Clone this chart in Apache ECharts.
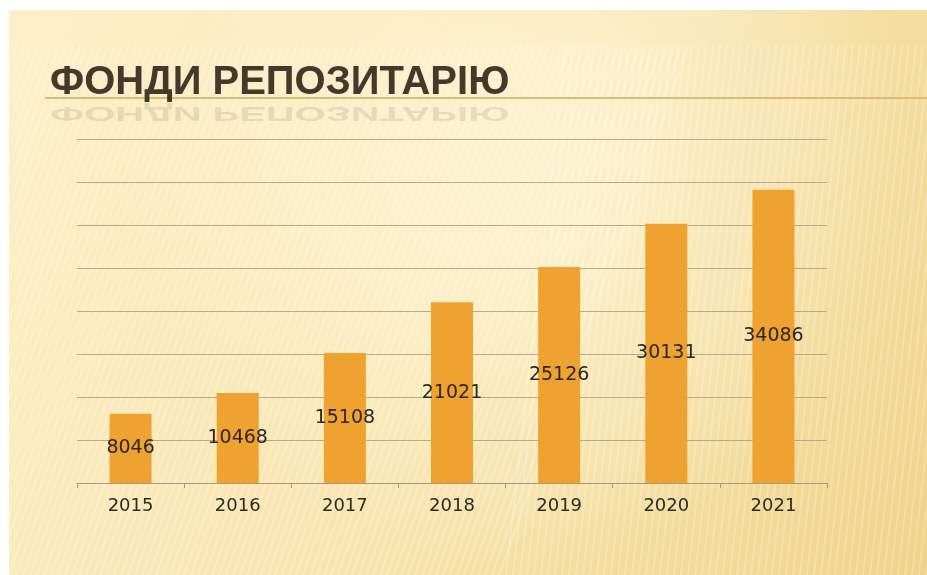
<!DOCTYPE html>
<html>
<head>
<meta charset="utf-8">
<title>Фонди репозитарію</title>
<script src="https://cdn.jsdelivr.net/npm/echarts@6/dist/echarts.min.js"></script>
<style>
  html, body { margin: 0; padding: 0; background: #fff; }
  #main { width: 927px; height: 575px; }
</style>
</head>
<body>
<div id="main"></div>
<script>
// дані діаграми
var years = ['2015', '2016', '2017', '2018', '2019', '2020', '2021'];
var holdings = [8046, 10468, 15108, 21021, 25126, 30131, 34086];
var yTicks = [0, 5000, 10000, 15000, 20000, 25000, 30000, 35000, 40000];
var titleText = 'ФОНДИ РЕПОЗИТАРІЮ';

// фон слайда: кремовий градієнт з тонкими смугами
function makeBackground() {
  var c = document.createElement('canvas');
  c.width = 927; c.height = 575;
  var ctx = c.getContext('2d');
  ctx.fillStyle = '#ffffff';
  ctx.fillRect(0, 0, 927, 575);
  var g = ctx.createLinearGradient(9, 10, 927, 575);
  g.addColorStop(0, '#fdf0c8');
  g.addColorStop(0.5, '#f9e5b0');
  g.addColorStop(1, '#eed38a');
  ctx.fillStyle = g;
  ctx.fillRect(9, 10, 918, 565);
  // світла дуга
  var r = ctx.createRadialGradient(520, 170, 20, 520, 170, 400);
  r.addColorStop(0, 'rgba(255,248,222,0.7)');
  r.addColorStop(1, 'rgba(255,248,222,0)');
  ctx.fillStyle = r;
  ctx.fillRect(9, 10, 918, 565);
  // смуги
  ctx.save();
  ctx.beginPath();
  ctx.rect(9, 45, 918, 530);
  ctx.clip();
  ctx.strokeStyle = 'rgba(255,255,255,0.22)';
  ctx.lineWidth = 2;
  for (var x = -250; x < 950; x += 7) {
    var shift = x < 500 ? 190 : 60;
    ctx.beginPath();
    ctx.moveTo(x, 575);
    ctx.lineTo(x + shift, 45);
    ctx.stroke();
  }
  ctx.restore();
  return c;
}

var titleFont = 'bold 40px "Liberation Sans", Arial, sans-serif';

var chart = echarts.init(document.getElementById('main'));
chart.setOption({
  backgroundColor: 'transparent',
  animation: false,
  graphic: [
    { type: 'image', z: -10, silent: true,
      style: { image: makeBackground(), x: 0, y: 0, width: 927, height: 575 } },
    { type: 'line', z: 1, silent: true,
      shape: { x1: 45, y1: 98, x2: 927, y2: 98 },
      style: { stroke: '#dcbc6e', lineWidth: 2 } },
    // відображення заголовка
    { type: 'text', z: 2, silent: true,
      x: 50, y: 103, originX: 0, originY: 0, scaleX: 1.0, scaleY: -0.5,
      style: {
        text: titleText, x: 0, y: 0, verticalAlign: 'bottom',
        font: titleFont, fill: '#463c2e', opacity: 0.12
      } },
    { type: 'text', z: 3, silent: true,
      x: 50, y: 103, originX: 0, originY: 0, scaleX: 1.0,
      style: {
        text: titleText, x: 0, y: 0, verticalAlign: 'bottom',
        font: titleFont, fill: '#43392c',
        shadowColor: 'rgba(0,0,0,0.2)', shadowBlur: 2, shadowOffsetX: 1, shadowOffsetY: 1
      } }
  ],
  grid: { left: 77, right: 100, top: 139, bottom: 92 },
  xAxis: {
    type: 'category',
    data: years,
    axisLine: { lineStyle: { color: '#a89a80', width: 1 } },
    axisTick: { show: true, length: 5, lineStyle: { color: '#a89a80' } },
    axisLabel: { color: '#2e2a24', fontSize: 18, fontFamily: 'DejaVu Sans', margin: 14 }
  },
  yAxis: {
    type: 'value',
    min: yTicks[0],
    max: yTicks[yTicks.length - 1],
    interval: yTicks[1] - yTicks[0],
    axisLine: { show: false },
    axisTick: { show: false },
    axisLabel: { show: false },
    splitLine: { lineStyle: { color: '#b9aa88', width: 1 } }
  },
  series: [{
    type: 'bar',
    data: holdings,
    barWidth: 42,
    itemStyle: { color: '#efa22f' },
    label: {
      show: true,
      position: 'inside',
      color: '#2b2722',
      fontSize: 19,
      fontFamily: 'DejaVu Sans'
    }
  }]
});
</script>
</body>
</html>
